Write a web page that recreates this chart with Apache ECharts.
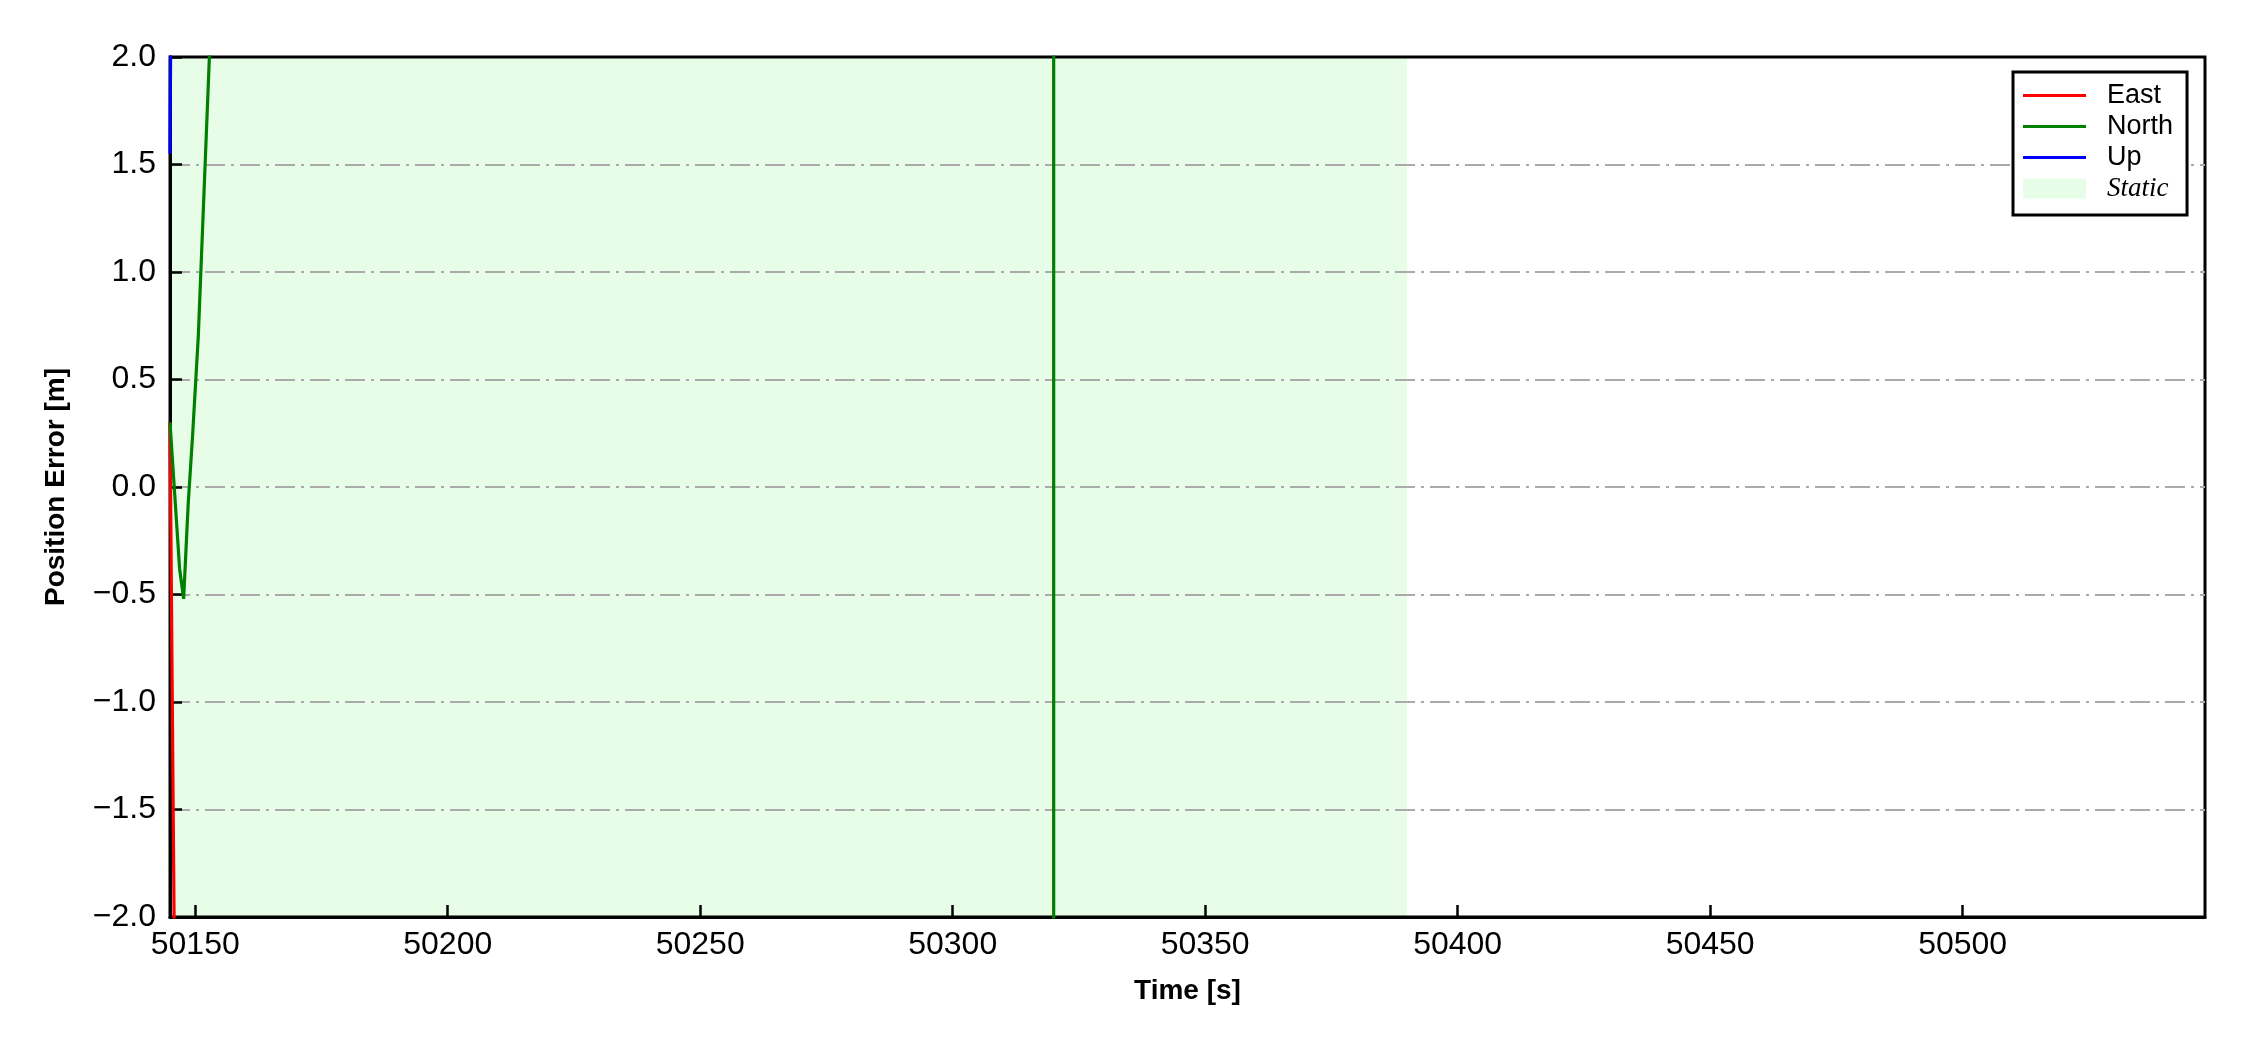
<!DOCTYPE html>
<html>
<head>
<meta charset="utf-8">
<script src="https://cdn.jsdelivr.net/npm/echarts@6/dist/echarts.min.js"></script>
<style>
html,body{margin:0;padding:0;background:#fff;}
#chart{width:2250px;height:1050px;}
</style>
</head>
<body>
<div id="chart"></div>
<script>
// ---- data ----
const eastTime  = [50145, 50146, 50150, 50200, 50320, 50400, 50548];
const eastValue = [0.30, -2.55, -4.0, -6.0, -8.0, -9.0, -10.0];

const northTime  = [50145, 50146.9, 50147.7, 50148.6, 50149.5, 50150.6, 50152.8, 50200, 50280, 50320, 50320, 50400, 50548];
const northValue = [0.30, -0.38, -0.52, -0.08, 0.25, 0.70, 2.0, 5.0, 8.0, 9.0, -9.0, -12.0, -14.0];

const upTime  = [50145, 50146, 50150, 50200, 50320, 50400, 50548];
const upValue = [1.55, 5.5, 6.0, 7.0, 8.0, 9.0, 10.0];

const staticStart = 50145;
const staticEnd = 50390;

const xMin = 50145, xMax = 50548;
const yMin = -2.0, yMax = 2.0;
const xTickValues = [50150, 50200, 50250, 50300, 50350, 50400, 50450, 50500];
const yTickStep = 0.5;

function pairs(t, v){ return t.map((x, i) => [x, v[i]]); }

const chart = echarts.init(document.getElementById('chart'), null, {renderer: 'canvas'});
const sans = 'Liberation Sans, Arial, sans-serif';
const lineIcon = 'path://M0,0L63,0L63,3L0,3Z';

const lineSeries = (name, t, v, color) => ({
  name: name,
  type: 'line',
  data: pairs(t, v),
  symbol: 'none',
  clip: true,
  z: 3,
  lineStyle: {color: color, width: 3.2},
  itemStyle: {color: color},
  animation: false
});

chart.setOption({
  animation: false,
  backgroundColor: '#fff',
  grid: {
    left: 170, right: 45, top: 57, bottom: 133,
    show: true, borderColor: '#000', borderWidth: 3, backgroundColor: 'transparent'
  },
  legend: {
    orient: 'vertical',
    left: 2013, top: 72,
    padding: [10, 14, 13, 10],
    borderColor: '#000', borderWidth: 3,
    backgroundColor: '#fff',
    itemWidth: 63, itemHeight: 20, itemGap: 4,
    textStyle: {fontFamily: sans, fontSize: 27, color: '#000', padding: [0, 0, 0, 16]},
    data: [
      {name: 'East', icon: lineIcon},
      {name: 'North', icon: lineIcon},
      {name: 'Up', icon: lineIcon},
      {name: 'Static', icon: 'rect', itemStyle: {color: '#e8fde8'},
       textStyle: {fontFamily: 'Liberation Serif, Times New Roman, serif', fontStyle: 'italic', fontSize: 27, color: '#000'}}
    ]
  },
  xAxis: {
    type: 'value',
    min: xMin, max: xMax,
    name: 'Time [s]',
    nameLocation: 'middle',
    nameGap: 60,
    nameTextStyle: {fontFamily: sans, fontSize: 28, fontWeight: 'bold', color: '#000'},
    axisLine: {show: true, onZero: false, lineStyle: {color: '#000', width: 3}},
    axisTick: {show: true, inside: true, length: 12, customValues: xTickValues, lineStyle: {color: '#000', width: 2.5}},
    axisLabel: {show: true, customValues: xTickValues, margin: 12, fontFamily: sans, fontSize: 32, color: '#000',
      formatter: v => String(v)},
    splitLine: {show: false}
  },
  yAxis: {
    type: 'value',
    min: yMin, max: yMax, interval: yTickStep,
    name: 'Position Error [m]',
    nameLocation: 'middle',
    nameGap: 100,
    nameTextStyle: {fontFamily: sans, fontSize: 28, fontWeight: 'bold', color: '#000'},
    axisLine: {show: true, onZero: false, lineStyle: {color: '#000', width: 3}},
    axisTick: {show: true, inside: true, length: 12, lineStyle: {color: '#000', width: 2.5}},
    axisLabel: {show: true, margin: 14, fontFamily: sans, fontSize: 32, color: '#000',
      formatter: v => v.toFixed(1).replace('-', '\u2212')},
    splitLine: {show: true, showMinLine: false, showMaxLine: false,
      lineStyle: {color: '#aaaaaa', width: 2, type: [20, 6, 3, 6]}}
  },
  series: [
    lineSeries('East', eastTime, eastValue, '#ff0000'),
    lineSeries('North', northTime, northValue, '#008000'),
    lineSeries('Up', upTime, upValue, '#0000ff'),
    {
      name: 'Static',
      type: 'custom',
      z: -1,
      itemStyle: {color: '#e8fde8'},
      data: [[staticStart, staticEnd]],
      renderItem: function (params, api) {
        const p1 = api.coord([api.value(0), yMax]);
        const p2 = api.coord([api.value(1), yMin]);
        return {
          type: 'rect',
          shape: {x: p1[0], y: p1[1], width: p2[0] - p1[0], height: p2[1] - p1[1]},
          style: {fill: '#e8fde8'}
        };
      }
    }
  ]
});
</script>
</body>
</html>
